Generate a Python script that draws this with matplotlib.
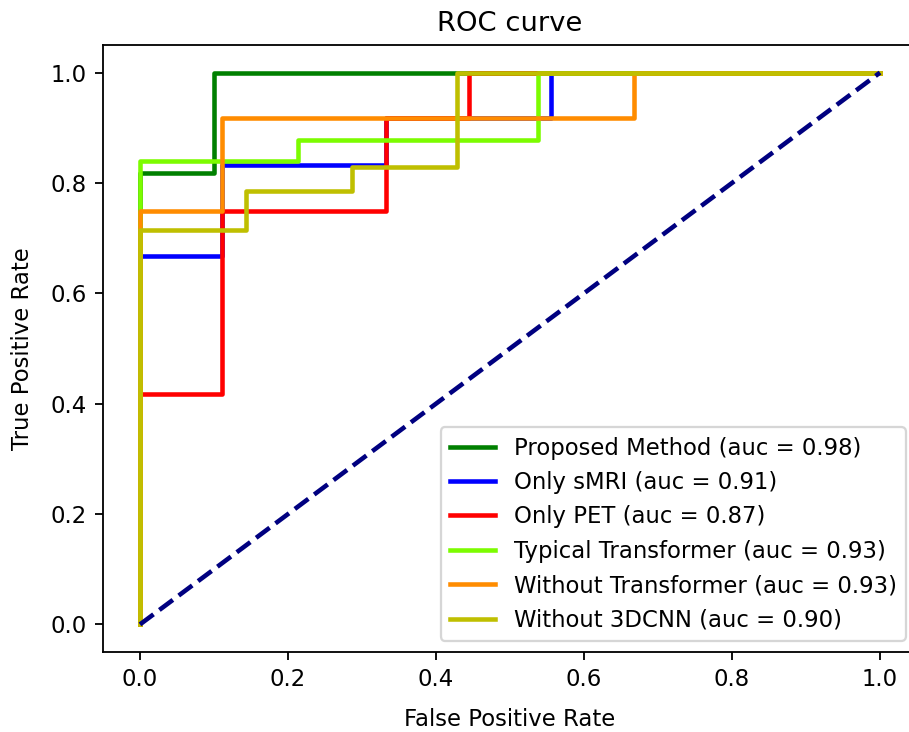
import matplotlib
matplotlib.use("Agg")
import matplotlib.pyplot as plt

# ROC points
proposed_fpr = [0.0, 0.0, 0.1, 0.1, 1.0]
proposed_tpr = [0.0, 0.818, 0.818, 1.0, 1.0]

smri_fpr = [0.0, 0.0, 0.111, 0.111, 0.333, 0.333, 0.556, 0.556, 1.0]
smri_tpr = [0.0, 0.667, 0.667, 0.833, 0.833, 0.917, 0.917, 1.0, 1.0]

pet_fpr = [0.0, 0.0, 0.111, 0.111, 0.333, 0.333, 0.444, 0.444, 1.0]
pet_tpr = [0.0, 0.417, 0.417, 0.75, 0.75, 0.917, 0.917, 1.0, 1.0]

typical_fpr = [0.0, 0.0, 0.214, 0.214, 0.538, 0.538, 1.0]
typical_tpr = [0.0, 0.839, 0.839, 0.877, 0.877, 1.0, 1.0]

no_trans_fpr = [0.0, 0.0, 0.111, 0.111, 0.667, 0.667, 1.0]
no_trans_tpr = [0.0, 0.75, 0.75, 0.917, 0.917, 1.0, 1.0]

no_cnn_fpr = [0.0, 0.0, 0.143, 0.143, 0.286, 0.286, 0.429, 0.429, 1.0]
no_cnn_tpr = [0.0, 0.714, 0.714, 0.786, 0.786, 0.829, 0.829, 1.0, 1.0]

labels = [
    "Proposed Method (auc = 0.98)",
    "Only sMRI (auc = 0.91)",
    "Only PET (auc = 0.87)",
    "Typical Transformer (auc = 0.93)",
    "Without Transformer (auc = 0.93)",
    "Without 3DCNN (auc = 0.90)",
]
colors = ["green", "blue", "red", "#7cfc00", "darkorange", "#bfbf00"]

curves = [
    (proposed_fpr, proposed_tpr),
    (smri_fpr, smri_tpr),
    (pet_fpr, pet_tpr),
    (typical_fpr, typical_tpr),
    (no_trans_fpr, no_trans_tpr),
    (no_cnn_fpr, no_cnn_tpr),
]

dpi = 164
fig = plt.figure(figsize=(909 / dpi, 732 / dpi), dpi=dpi)
# the reference is cropped on the right, so the axes run past the edge
ax = fig.add_axes([103 / 909, 80 / 732, 814 / 909, 607 / 732])

for (fpr, tpr), lab, col in zip(curves, labels, colors):
    ax.plot(fpr, tpr, color=col, lw=2, label=lab)

ax.plot([0, 1], [0, 1], color="navy", lw=2, linestyle="--")

ax.set_title("ROC curve")
ax.set_xlabel("False Positive Rate", labelpad=7.5)
ax.set_ylabel("True Positive Rate", labelpad=7.5)
ax.legend(loc="lower right")

fig.savefig("out.png", dpi=dpi)
